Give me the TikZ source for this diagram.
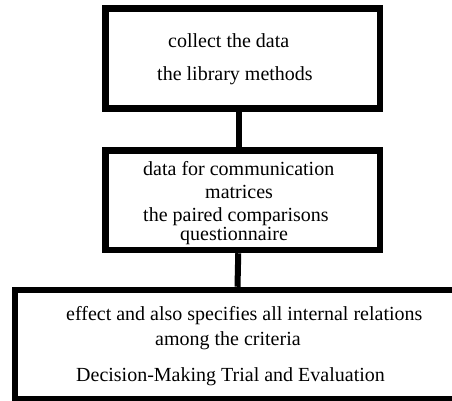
\documentclass[tikz,border=0pt]{standalone}
\usepackage{fontspec}
\setmainfont{Liberation Serif}
\begin{document}
\begin{tikzpicture}[x=1pt,y=-1pt,
  boxstyle/.style={draw=black,line width=6.5pt,rectangle,inner sep=0pt,fill=none},
  linkstyle/.style={draw=black,line width=6pt},
  txt/.style={anchor=base west,inner sep=0pt,font=\fontsize{20}{24}\selectfont}]
\clip (0,0) rectangle (452,400);
\fill[white] (0,0) rectangle (452,400);
\node[boxstyle,minimum width=274.5pt,minimum height=100pt] (box1) at (242.75,58.5) {};
\node[boxstyle,minimum width=274.5pt,minimum height=99.5pt] (box2) at (242.75,200.25) {};
\node[boxstyle,minimum width=445pt,minimum height=109.5pt] (box3) at (237.5,344.75) {};
\draw[linkstyle] ([xshift=-4pt]box1.south) -- ([xshift=-4pt]box2.north);
\draw[linkstyle] ([xshift=-4.5pt]box2.south) -- ([xshift=0pt]box3.north);
\node[txt] (t1) at (168,47) {collect the data};
\node[txt] (t2) at (157,80) {the library methods};
\node[txt] (t3) at (143,175) {data for communication};
\node[txt] (t4) at (205,198) {matrices};
\node[txt] (t5) at (143,221) {the paired comparisons};
\node[txt] (t6) at (180,240) {questionnaire};
\node[txt] (t7) at (66,320) {effect and also specifies all internal relations};
\node[txt] (t8) at (155,345) {among the criteria};
\node[txt] (t9) at (76,381) {Decision-Making Trial and Evaluation};
\end{tikzpicture}
\end{document}
